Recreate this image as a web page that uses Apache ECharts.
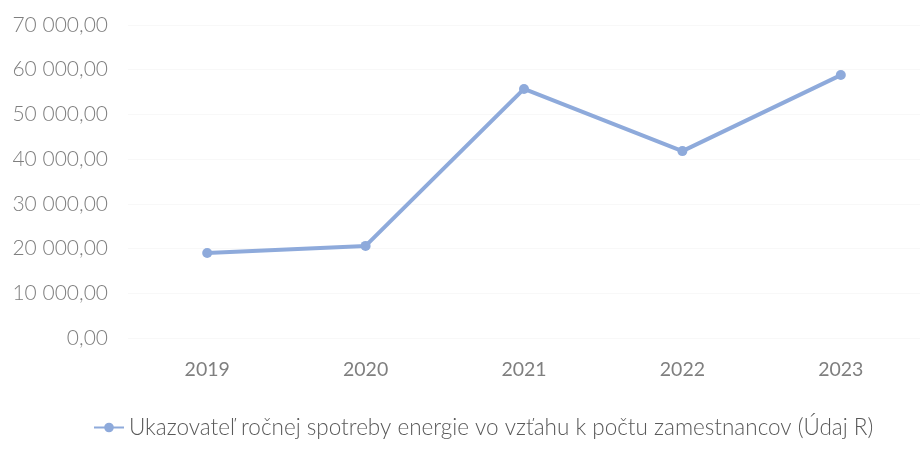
<!DOCTYPE html>
<html>
<head>
<meta charset="utf-8">
<script src="https://cdn.jsdelivr.net/npm/echarts@6/dist/echarts.min.js"></script>
<style>
  html, body { margin: 0; padding: 0; background: #ffffff; }
  #chart01 { width: 920px; height: 452px; }
</style>
</head>
<body>
<div id="chart01"></div>
<script>
var years = ['2019', '2020', '2021', '2022', '2023'];
var ukazovatel = [19000, 20600, 55700, 41800, 58800];
var seriesName = 'Ukazovateľ ročnej spotreby energie vo vzťahu k počtu zamestnancov (Údaj R)';

// 70 000,00 style
function fmt(v) {
    var s = Math.round(v).toString().replace(/\B(?=(\d{3})+(?!\d))/g, ' ');
    return s + ',00';
}

function chart01(id) {
    var myChart = echarts.init(document.getElementById(id));
    var option = {
        backgroundColor: '#ffffff',
        textStyle: { fontFamily: 'Lato' },
        grid: {
            left: 128,
            width: 802,
            top: 25,
            bottom: 114
        },
        legend: {
            left: 88,
            top: 411,
            itemWidth: 30,
            itemHeight: 12,
            itemGap: 0,
            textStyle: {
                fontSize: 22.5,
                fontWeight: 300,
                color: '#595959'
            },
            data: [seriesName]
        },
        xAxis: {
            type: 'category',
            boundaryGap: true,
            data: years,
            axisTick: { show: false },
            axisLine: { show: false },
            axisLabel: {
                fontSize: 19.5,
                color: '#7f7f7f',
                margin: 22
            }
        },
        yAxis: {
            type: 'value',
            min: 0,
            max: 70000,
            interval: 10000,
            axisLine: { show: false },
            axisTick: { show: false },
            splitLine: {
                lineStyle: { color: '#f8f8f8' }
            },
            axisLabel: {
                fontSize: 21,
                fontWeight: 300,
                color: '#7f7f7f',
                margin: 20,
                formatter: fmt
            }
        },
        series: [
            {
                name: seriesName,
                type: 'line',
                data: ukazovatel,
                symbol: 'circle',
                symbolSize: 10,
                lineStyle: { width: 4, color: '#8eaadb' },
                itemStyle: { color: '#8eaadb' }
            }
        ]
    };
    myChart.setOption(option);
    return myChart;
}

var chartInit01 = chart01('chart01');
window.addEventListener('resize', function () {
    chartInit01.resize();
});
</script>
</body>
</html>
